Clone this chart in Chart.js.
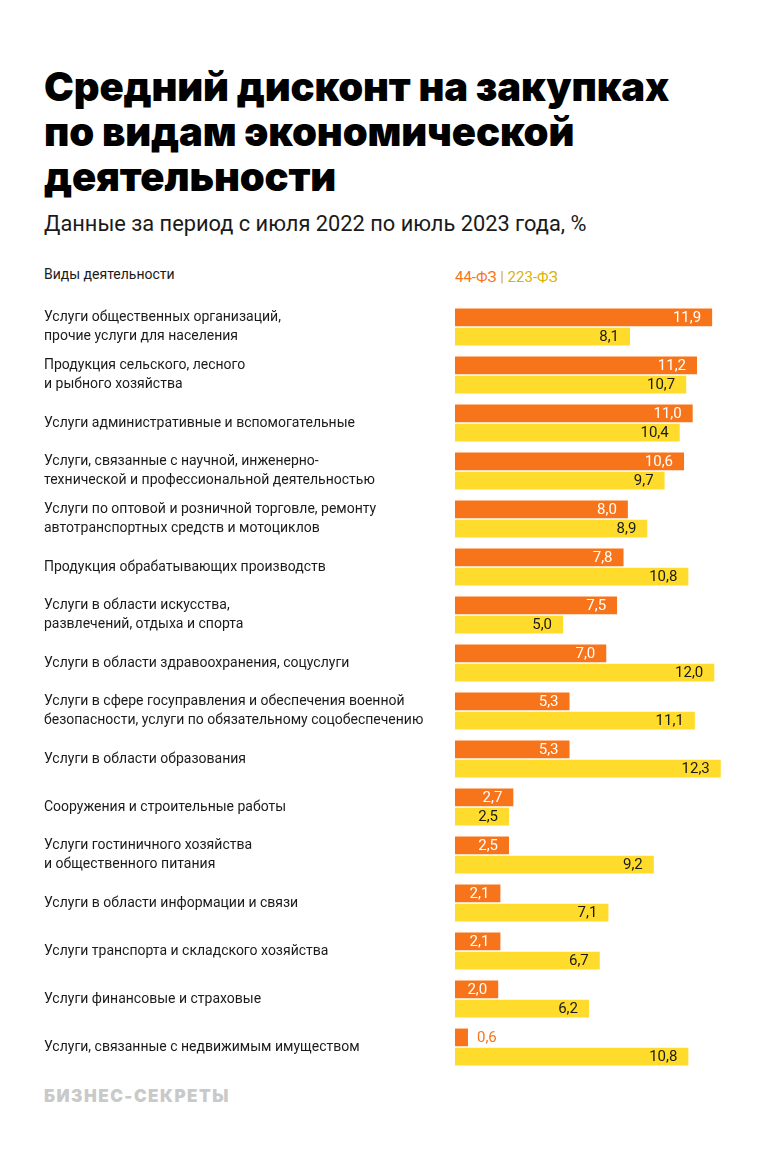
<!DOCTYPE html>
<html lang="ru">
<head>
<meta charset="utf-8">
<script src="https://cdn.jsdelivr.net/npm/chart.js@4"></script>
<style>
  html, body { margin: 0; padding: 0; background: #fff; }
  body { width: 764px; height: 1169px; position: relative; overflow: hidden; font-family: Roboto, sans-serif; color: #1a1a1a; }
  h1 { position: absolute; left: 44px; top: 64px; margin: 0; font-family: Inter, sans-serif; font-weight: 900; font-size: 40px; line-height: 45px; letter-spacing: -0.15px; color: #000; }
  .sub { position: absolute; left: 44px; top: 211px; font-size: 21.8px; color: #1a1a1a; }
  .head { position: absolute; left: 44px; top: 266px; font-size: 14px; }
  .legend { position: absolute; left: 455px; top: 268px; font-size: 15px; }
  .legend .a { color: #f7741a; }
  .legend .b { color: #d9b300; }
  .brand { position: absolute; left: 44px; top: 1086px; font-size: 17px; font-weight: 900; color: #c9c9c9; letter-spacing: 1.5px; font-family: Inter, sans-serif; }
  .wrap { position: absolute; left: 44px; top: 303px; width: 720px; height: 768px; }
</style>
</head>
<body>
<h1>Средний дисконт на закупках<br>по видам экономической<br>деятельности</h1>
<div class="sub">Данные за период с июля 2022 по июль 2023 года, %</div>
<div class="head">Виды деятельности</div>
<div class="legend"><span class="a">44-ФЗ</span> <span class="b">| 223-ФЗ</span></div>
<div class="wrap"><canvas id="discountChart"></canvas></div>
<div class="brand">БИЗНЕС-СЕКРЕТЫ</div>
<script>
const categories = [
  ["Услуги общественных организаций,", "прочие услуги для населения"],
  ["Продукция сельского, лесного", "и рыбного хозяйства"],
  "Услуги административные и вспомогательные",
  ["Услуги, связанные с научной, инженерно-", "технической и профессиональной деятельностью"],
  ["Услуги по оптовой и розничной торговле, ремонту", "автотранспортных средств и мотоциклов"],
  "Продукция обрабатывающих производств",
  ["Услуги в области искусства,", "развлечений, отдыха и спорта"],
  "Услуги в области здравоохранения, соцуслуги",
  ["Услуги в сфере госуправления и обеспечения военной", "безопасности, услуги по обязательному соцобеспечению"],
  "Услуги в области образования",
  "Сооружения и строительные работы",
  ["Услуги гостиничного хозяйства", "и общественного питания"],
  "Услуги в области информации и связи",
  "Услуги транспорта и складского хозяйства",
  "Услуги финансовые и страховые",
  "Услуги, связанные с недвижимым имуществом",
];
const fz44 = [11.9, 11.2, 11.0, 10.6, 8.0, 7.8, 7.5, 7.0, 5.3, 5.3, 2.7, 2.5, 2.1, 2.1, 2.0, 0.6];
const fz223 = [8.1, 10.7, 10.4, 9.7, 8.9, 10.8, 5.0, 12.0, 11.1, 12.3, 2.5, 9.2, 7.1, 6.7, 6.2, 10.8];

const ORANGE = "#f7741a";
const YELLOW = "#ffdc2b";

// value labels at the end of each bar (inside when there is room)
const valueLabels = {
  id: "valueLabels",
  afterDatasetsDraw(chart) {
    const c = chart.ctx;
    c.save();
    c.font = "15px Roboto, sans-serif";
    c.textBaseline = "middle";
    chart.data.datasets.forEach((ds, i) => {
      chart.getDatasetMeta(i).data.forEach((bar, j) => {
        const txt = ds.data[j].toFixed(1).replace(".", ",");
        const w = c.measureText(txt).width;
        const barW = bar.x - bar.base;
        if (barW > w + 16) {
          c.textAlign = "right";
          c.fillStyle = i === 0 ? "#fff" : "#1a1a1a";
          c.fillText(txt, bar.x - 11, bar.y + 1);
        } else {
          c.textAlign = "left";
          c.fillStyle = i === 0 ? ORANGE : "#1a1a1a";
          c.fillText(txt, bar.x + 9, bar.y + 1);
        }
      });
    });
    c.restore();
  },
};

new Chart(document.getElementById("discountChart"), {
  type: "bar",
  data: {
    labels: categories,
    datasets: [
      { label: "44-ФЗ", data: fz44, backgroundColor: ORANGE },
      { label: "223-ФЗ", data: fz223, backgroundColor: YELLOW },
    ],
  },
  options: {
    indexAxis: "y",
    responsive: true,
    maintainAspectRatio: false,
    animation: false,
    categoryPercentage: 0.8,
    barPercentage: 0.92,
    layout: { padding: 0 },
    plugins: { legend: { display: false }, tooltip: { enabled: false } },
    scales: {
      x: { display: false, min: 0, max: 14.3 },
      y: {
        grid: { display: false },
        border: { display: false },
        afterFit(scale) {
          scale.width = 411;
          scale.paddingTop = 0;
          scale.paddingBottom = 0;
        },
        ticks: {
          crossAlign: "far",
          padding: 0,
          color: "#1a1a1a",
          font: { family: "Roboto, sans-serif", size: 14, lineHeight: 1.36 },
        },
      },
    },
  },
  plugins: [valueLabels],
});
</script>
</body>
</html>
